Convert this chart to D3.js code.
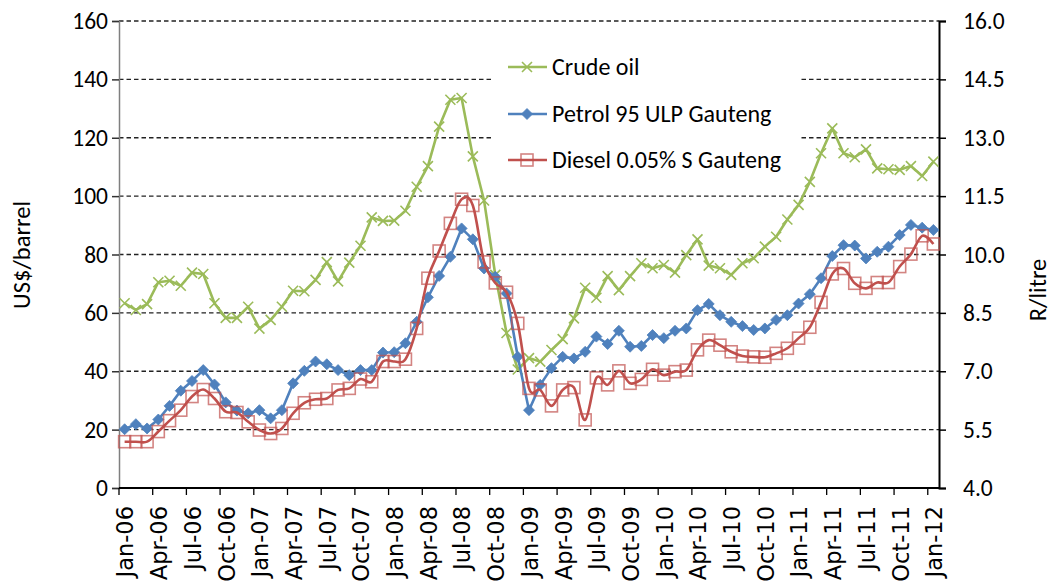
<!DOCTYPE html>
<html>
<head>
<meta charset="utf-8">
<script src="https://cdn.jsdelivr.net/npm/d3@7"></script>
<style>
  html, body { margin: 0; padding: 0; background: #fff; }
  svg { display: block; }
</style>
</head>
<body>
<svg id="chart" width="1060" height="588"></svg>
<script>
// ---- data ----
const months = ["Jan","Feb","Mar","Apr","May","Jun","Jul","Aug","Sep","Oct","Nov","Dec"];
const categories = [];
for (let y = 6; y <= 12; y++) {
  for (let m = 0; m < 12; m++) {
    if (y === 12 && m > 0) break;
    categories.push(months[m] + "-" + (y < 10 ? "0" + y : "" + y));
  }
}
// Crude oil, US$/barrel (left axis)
const crudeOil = [
  63.3, 61.0, 63.0, 70.5, 71.0, 69.3, 73.8, 73.3, 63.3, 58.3, 58.3, 62.1,
  54.6, 57.6, 62.1, 67.6, 67.4, 71.3, 77.4, 70.8, 77.2, 83.0, 92.7, 91.5,
  91.6, 95.0, 103.2, 110.3, 123.8, 133.0, 133.6, 113.6, 98.5, 73.0, 53.1, 40.6,
  44.5, 43.3, 47.3, 51.0, 58.1, 68.6, 65.2, 72.6, 67.8, 72.6, 77.0, 75.3,
  76.4, 73.8, 79.8, 85.2, 76.2, 75.3, 73.0, 77.0, 78.7, 82.7, 86.1, 92.0,
  97.0, 104.9, 114.7, 123.2, 114.7, 113.3, 116.0, 109.5, 109.2, 109.0, 110.3, 106.9,
  111.8
];
// Petrol 95 ULP Gauteng, R/litre (right axis)
const petrol95 = [
  5.51, 5.64, 5.53, 5.76, 6.11, 6.50, 6.75, 7.03, 6.66, 6.20, 5.99, 5.92,
  6.00, 5.79, 6.00, 6.69, 7.01, 7.25, 7.18, 7.03, 6.90, 7.03, 7.03, 7.48,
  7.49, 7.72, 8.27, 8.90, 9.45, 9.94, 10.67, 10.39, 9.64, 9.43, 9.00, 7.37,
  6.00, 6.65, 7.08, 7.37, 7.33, 7.50, 7.89, 7.70, 8.04, 7.63, 7.65, 7.93,
  7.85, 8.04, 8.10, 8.57, 8.73, 8.44, 8.27, 8.16, 8.06, 8.10, 8.32, 8.44,
  8.74, 8.98, 9.39, 9.96, 10.24, 10.23, 9.90, 10.07, 10.20, 10.50, 10.76, 10.69,
  10.63
];
// Diesel 0.05% S Gauteng, R/litre (right axis)
const diesel005 = [
  5.19, 5.19, 5.19, 5.45, 5.73, 6.00, 6.35, 6.53, 6.30, 5.96, 5.94, 5.70,
  5.49, 5.40, 5.53, 5.92, 6.19, 6.28, 6.30, 6.52, 6.56, 6.80, 6.73, 7.25,
  7.25, 7.31, 8.10, 9.39, 10.09, 10.80, 11.42, 11.26, 9.81, 9.27, 9.03, 8.23,
  6.56, 6.52, 6.11, 6.52, 6.58, 5.75, 6.83, 6.65, 7.01, 6.69, 6.79, 7.05,
  6.90, 6.99, 7.03, 7.55, 7.80, 7.67, 7.50, 7.39, 7.37, 7.36, 7.46, 7.59,
  7.85, 8.13, 8.77, 9.50, 9.64, 9.26, 9.13, 9.28, 9.28, 9.69, 10.01, 10.48,
  10.27
];
const leftTicks = [0, 20, 40, 60, 80, 100, 120, 140, 160];
const rightTicks = [4.0, 5.5, 7.0, 8.5, 10.0, 11.5, 13.0, 14.5, 16.0];
const seriesNames = ["Crude oil", "Petrol 95 ULP Gauteng", "Diesel 0.05% S Gauteng"];
const leftTitle = "US$/barrel";
const rightTitle = "R/litre";

// ---- layout ----
const W = 1060, H = 588;
const plot = { left: 119, right: 939, top: 21, bottom: 488 };
const colors = { crude: "#9BBB59", petrol: "#4F81BD", diesel: "#C0504D" };
const labelFont = "Carlito, Calibri, Lato, sans-serif";

const svg = d3.select("#chart");

const x = d3.scaleBand().domain(d3.range(categories.length)).range([plot.left, plot.right]).paddingInner(0).paddingOuter(0);
const cx = i => x(i) + x.bandwidth() / 2;
const yL = d3.scaleLinear().domain([0, 160]).range([plot.bottom, plot.top]);
const yR = d3.scaleLinear().domain([4, 16]).range([plot.bottom, plot.top]);

// gridlines
svg.append("g").selectAll("line").data(leftTicks.filter(d => d > 0)).join("line")
  .attr("x1", plot.left).attr("x2", plot.right)
  .attr("y1", d => yL(d)).attr("y2", d => yL(d))
  .attr("stroke", "#222").attr("stroke-width", 1.3).attr("stroke-dasharray", "4.5,3");

// left axis
const gL = svg.append("g").attr("transform", `translate(${plot.left},0)`)
  .call(d3.axisLeft(yL).tickValues(leftTicks).tickFormat(d3.format("d")).tickSize(7).tickPadding(4));
gL.select(".domain").attr("stroke", "#7f7f7f").attr("stroke-width", 1.5);
gL.selectAll(".tick line").attr("stroke", "#333").attr("stroke-width", 1.5);
gL.selectAll(".tick text").attr("font-family", labelFont).attr("font-size", 23.5).attr("fill", "#000");

// right axis
const gR = svg.append("g").attr("transform", `translate(${plot.right},0)`)
  .call(d3.axisRight(yR).tickValues(rightTicks).tickFormat(d3.format(".1f")).tickSize(7).tickPadding(17));
gR.select(".domain").attr("stroke", "#000").attr("stroke-width", 2);
gR.selectAll(".tick line").attr("stroke", "#000").attr("stroke-width", 1.5);
gR.selectAll(".tick text").attr("font-family", labelFont).attr("font-size", 23.5).attr("fill", "#000");

// x axis
const xTickIdx = d3.range(0, categories.length, 3);
const gX = svg.append("g").attr("transform", `translate(0,${plot.bottom})`);
gX.append("line").attr("x1", plot.left).attr("x2", plot.right).attr("y1", 0).attr("y2", 0)
  .attr("stroke", "#000").attr("stroke-width", 2);
gX.selectAll("line.tk").data(xTickIdx).join("line").attr("class", "tk")
  .attr("x1", d => x(d)).attr("x2", d => x(d)).attr("y1", 0).attr("y2", 7)
  .attr("stroke", "#000").attr("stroke-width", 1.3);
gX.selectAll("text").data(xTickIdx).join("text")
  .attr("transform", d => `translate(${cx(d) + 1},${18}) rotate(-90)`)
  .attr("text-anchor", "end").attr("dy", "0.35em")
  .attr("font-family", "DejaVu Sans, Verdana, sans-serif").attr("font-size", 22.5)
  .attr("fill", "#000")
  .text(d => categories[d]);

// axis titles
svg.append("text").attr("transform", `translate(30,255) rotate(-90)`)
  .attr("text-anchor", "middle").attr("font-family", labelFont).attr("font-size", 24.5).attr("fill", "#000")
  .text(leftTitle);
svg.append("text").attr("transform", `translate(1046,290) rotate(-90)`)
  .attr("text-anchor", "middle").attr("font-family", labelFont).attr("font-size", 24.5).attr("fill", "#000")
  .text(rightTitle);

// ---- series ----
const idx = d3.range(categories.length);
const lineCrude = d3.line().x(i => cx(i)).y(i => yL(crudeOil[i]));
const linePetrol = d3.line().x(i => cx(i)).y(i => yR(petrol95[i]));
const lineDiesel = d3.line().x(i => cx(i)).y(i => yR(diesel005[i])).curve(d3.curveCardinal.tension(0));

const xMark = (g, s) => {
  g.append("path").attr("d", `M${-s},${-s}L${s},${s}M${-s},${s}L${s},${-s}`)
    .attr("stroke", colors.crude).attr("stroke-width", 1.6).attr("fill", "none");
};
const diamond = (g, s) => {
  g.append("path").attr("d", `M0,${-s}L${s},0L0,${s}L${-s},0Z`).attr("fill", colors.petrol).attr("stroke", colors.petrol).attr("stroke-width", 0.8);
};
const square = (g, s) => {
  g.append("rect").attr("x", -s).attr("y", -s).attr("width", 2 * s).attr("height", 2 * s)
    .attr("fill", "none").attr("stroke", colors.diesel).attr("stroke-opacity", 0.7).attr("stroke-width", 1.6);
};

// crude
svg.append("path").attr("d", lineCrude(idx)).attr("fill", "none").attr("stroke", colors.crude).attr("stroke-width", 2.6).attr("stroke-linejoin", "round");
svg.append("g").selectAll("g").data(idx).join("g")
  .attr("transform", i => `translate(${cx(i)},${yL(crudeOil[i])})`).each(function () { xMark(d3.select(this), 5); });
// petrol
svg.append("path").attr("d", linePetrol(idx)).attr("fill", "none").attr("stroke", colors.petrol).attr("stroke-width", 2.6).attr("stroke-linejoin", "round");
svg.append("g").selectAll("g").data(idx).join("g")
  .attr("transform", i => `translate(${cx(i)},${yR(petrol95[i])})`).each(function () { diamond(d3.select(this), 5.5); });
// diesel
svg.append("path").attr("d", lineDiesel(idx)).attr("fill", "none").attr("stroke", colors.diesel).attr("stroke-width", 2.6).attr("stroke-linejoin", "round");
svg.append("g").selectAll("g").data(idx).join("g")
  .attr("transform", i => `translate(${cx(i)},${yR(diesel005[i])})`).each(function () { square(d3.select(this), 6); });

// ---- legend ----
const lg = svg.append("g");
lg.append("rect").attr("x", 494).attr("y", 34).attr("width", 305).attr("height", 152).attr("fill", "#fff");
const legendY = [67, 114, 160];
const markers = [xMark, diamond, square];
const sizes = [5, 5.5, 6];
seriesNames.forEach((name, k) => {
  const c = [colors.crude, colors.petrol, colors.diesel][k];
  lg.append("line").attr("x1", 508).attr("x2", 547).attr("y1", legendY[k]).attr("y2", legendY[k])
    .attr("stroke", c).attr("stroke-width", 2.6);
  const mg = lg.append("g").attr("transform", `translate(527,${legendY[k]})`);
  markers[k](mg, sizes[k]);
  lg.append("text").attr("x", 552).attr("y", legendY[k]).attr("dy", "0.35em")
    .attr("font-family", labelFont).attr("font-size", 24).attr("fill", "#000").text(name);
});
</script>
</body>
</html>
